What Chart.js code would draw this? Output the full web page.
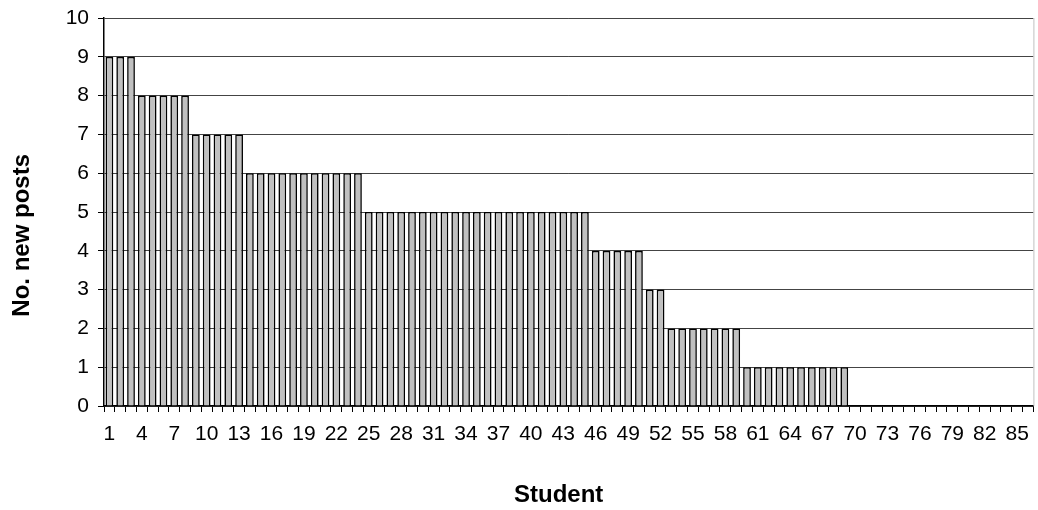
<!DOCTYPE html>
<html>
<head>
<meta charset="utf-8">
<script src="https://cdn.jsdelivr.net/npm/chart.js@4.4.0/dist/chart.umd.min.js"></script>
<style>
  html, body { margin: 0; padding: 0; background: #fff; }
  #wrap { width: 1038px; height: 510px; }
</style>
</head>
<body>
<div id="wrap"><canvas id="chart" width="1038" height="510"></canvas></div>
<script>
// students 1..86, number of new posts each
const students = Array.from({ length: 86 }, (_, i) => String(i + 1));
const posts = [
  9, 9, 9,
  8, 8, 8, 8, 8,
  7, 7, 7, 7, 7,
  6, 6, 6, 6, 6, 6, 6, 6, 6, 6, 6,
  5, 5, 5, 5, 5, 5, 5, 5, 5, 5, 5, 5, 5, 5, 5, 5, 5, 5, 5, 5, 5,
  4, 4, 4, 4, 4,
  3, 3,
  2, 2, 2, 2, 2, 2, 2,
  1, 1, 1, 1, 1, 1, 1, 1, 1, 1,
  0, 0, 0, 0, 0, 0, 0, 0, 0, 0, 0, 0, 0, 0, 0, 0, 0
];
const yTicks = [0, 1, 2, 3, 4, 5, 6, 7, 8, 9, 10];

const font = 'Liberation Sans, Arial, sans-serif';

// thin grey frame line on the right of the plot area
const rightEdge = {
  id: 'rightEdge',
  afterDraw(chart) {
    const { ctx, chartArea: a } = chart;
    ctx.save();
    ctx.strokeStyle = '#c0c0c0';
    ctx.lineWidth = 1;
    ctx.beginPath();
    ctx.moveTo(a.right + 0.5, a.top);
    ctx.lineTo(a.right + 0.5, a.bottom);
    ctx.stroke();
    ctx.restore();
  }
};

new Chart(document.getElementById('chart').getContext('2d'), {
  type: 'bar',
  data: {
    labels: students,
    datasets: [{
      data: posts,
      backgroundColor: '#c0c0c0',
      borderColor: '#000',
      borderWidth: 1.6,
      barPercentage: 0.72,
      categoryPercentage: 1.0
    }]
  },
  options: {
    responsive: false,
    animation: false,
    layout: { padding: { top: 18, right: 1, left: 0, bottom: 0 } },
    plugins: { legend: { display: false }, tooltip: { enabled: false } },
    scales: {
      x: {
        afterFit: function (axis) { axis.height = 104; },
        grid: { display: true, drawOnChartArea: false, color: '#000', tickLength: 6, tickColor: '#000' },
        border: { color: '#000', width: 1.5 },
        ticks: {
          autoSkip: false,
          maxRotation: 0,
          color: '#000',
          padding: 10,
          font: { family: font, size: 21 },
          callback: function (v, i) { return i % 3 === 0 ? students[i] : ''; }
        },
        title: {
          display: true, text: 'Student   ', color: '#000',
          font: { family: font, size: 24, weight: 'bold' },
          padding: { top: 0, bottom: 0 }
        }
      },
      y: {
        min: 0,
        max: 10,
        afterFit: function (axis) {
          axis.width = 104;
          axis.paddingTop = 0;
          axis.paddingBottom = 0;
        },
        afterBuildTicks: function (axis) { axis.ticks = yTicks.map(v => ({ value: v })); },
        grid: { color: '#444', lineWidth: 1, tickLength: 6, tickColor: '#000' },
        border: { color: '#000', width: 1.5 },
        ticks: { color: '#000', padding: 9, font: { family: font, size: 21 } },
        title: {
          display: true, text: 'No. new posts       ', color: '#000',
          font: { family: font, size: 24, weight: 'bold' },
          padding: { top: 8, bottom: 0 }
        }
      }
    }
  },
  plugins: [rightEdge]
});
</script>
</body>
</html>
